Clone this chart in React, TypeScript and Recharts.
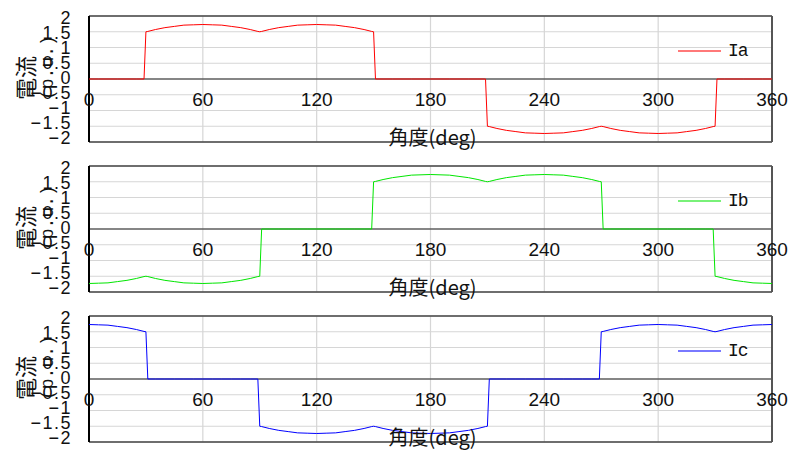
import { LineChart, Line, XAxis, YAxis, CartesianGrid, ReferenceLine, Legend } from 'recharts';

// sample angles (deg); extra points at 29/30/31 etc. carry the current steps
const angles = [
  0, 5, 10, 15, 20, 25, 29, 30, 31, 35, 40, 45, 50, 55, 60, 65, 70, 75, 80, 85,
  89, 90, 91, 95, 100, 105, 110, 115, 120, 125, 130, 135, 140, 145,
  149, 150, 151, 155, 160, 165, 170, 175, 180, 185, 190, 195, 200, 205,
  209, 210, 211, 215, 220, 225, 230, 235, 240, 245, 250, 255, 260, 265,
  269, 270, 271, 275, 280, 285, 290, 295, 300, 305, 310, 315, 320, 325,
  329, 330, 331, 335, 340, 345, 350, 355, 360,
];

const iaValues = [
  0, 0, 0, 0, 0, 0, 0, 1.5, 1.51, 1.57, 1.63, 1.67, 1.71, 1.72, 1.73, 1.72, 1.71, 1.67, 1.63, 1.57,
  1.51, 1.5, 1.51, 1.57, 1.63, 1.67, 1.71, 1.72, 1.73, 1.72, 1.71, 1.67, 1.63, 1.57,
  1.51, 1.5, 0, 0, 0, 0, 0, 0, 0, 0, 0, 0, 0, 0,
  0, -1.5, -1.51, -1.57, -1.63, -1.67, -1.71, -1.72, -1.73, -1.72, -1.71, -1.67, -1.63, -1.57,
  -1.51, -1.5, -1.51, -1.57, -1.63, -1.67, -1.71, -1.72, -1.73, -1.72, -1.71, -1.67, -1.63, -1.57,
  -1.51, -1.5, 0, 0, 0, 0, 0, 0, 0,
];

const ibValues = [
  -1.73, -1.72, -1.71, -1.67, -1.63, -1.57, -1.51, -1.5, -1.51, -1.57, -1.63, -1.67, -1.71, -1.72, -1.73, -1.72, -1.71, -1.67, -1.63, -1.57,
  -1.51, -1.5, 0, 0, 0, 0, 0, 0, 0, 0, 0, 0, 0, 0,
  0, 1.5, 1.51, 1.57, 1.63, 1.67, 1.71, 1.72, 1.73, 1.72, 1.71, 1.67, 1.63, 1.57,
  1.51, 1.5, 1.51, 1.57, 1.63, 1.67, 1.71, 1.72, 1.73, 1.72, 1.71, 1.67, 1.63, 1.57,
  1.51, 1.5, 0, 0, 0, 0, 0, 0, 0, 0, 0, 0, 0, 0,
  0, -1.5, -1.51, -1.57, -1.63, -1.67, -1.71, -1.72, -1.73,
];

const icValues = [
  1.73, 1.72, 1.71, 1.67, 1.63, 1.57, 1.51, 1.5, 0, 0, 0, 0, 0, 0, 0, 0, 0, 0, 0, 0,
  0, -1.5, -1.51, -1.57, -1.63, -1.67, -1.71, -1.72, -1.73, -1.72, -1.71, -1.67, -1.63, -1.57,
  -1.51, -1.5, -1.51, -1.57, -1.63, -1.67, -1.71, -1.72, -1.73, -1.72, -1.71, -1.67, -1.63, -1.57,
  -1.51, -1.5, 0, 0, 0, 0, 0, 0, 0, 0, 0, 0, 0, 0,
  0, 1.5, 1.51, 1.57, 1.63, 1.67, 1.71, 1.72, 1.73, 1.72, 1.71, 1.67, 1.63, 1.57,
  1.51, 1.5, 1.51, 1.57, 1.63, 1.67, 1.71, 1.72, 1.73,
];

const xTicks = [0, 60, 120, 180, 240, 300, 360];
const yTicks = [-2, -1.5, -1, -0.5, 0, 0.5, 1, 1.5, 2];

const panels = [
  { name: 'Ia', values: iaValues, color: '#ff0000' },
  { name: 'Ib', values: ibValues, color: '#00e600' },
  { name: 'Ic', values: icValues, color: '#0000ff' },
];

const W = 790;
const H = 150;
const PLOT_TOP = 16;
const NARROW = "'Liberation Sans Narrow', 'Liberation Sans', sans-serif";
const JP = "'Noto Sans CJK JP', sans-serif";

// x ticks sit just under the zero line, not under the frame
const XTick = ({ x, y, payload }: any) => (
  <text x={x} y={y - 36} textAnchor="middle" fontSize={19} fontFamily={NARROW} fill="#111">
    {payload.value}
  </text>
);

// labels are packed a bit tighter than the grid, like the original
const YTick = ({ x, y, payload }: any) => (
  <text x={x} y={y + 8 - (y - PLOT_TOP) * 0.048} textAnchor="end" fontSize={18} fontFamily={NARROW} fill="#111" letterSpacing={1.5}>
    {String(payload.value).replace('-', '\u2212')}
  </text>
);

const XLabel = ({ viewBox }: any) => (
  <text x={viewBox.x + viewBox.width / 2 + 2} y={viewBox.y + 3} textAnchor="middle" fontSize={20} fontFamily={JP} fill="#111">
    角度(deg)
  </text>
);

const YLabel = ({ viewBox }: any) => {
  const y0 = viewBox.y + viewBox.height / 2 + 21;
  return (
    <g fill="#111">
      <text x={24} y={y0} transform={`rotate(-90, 24, ${y0})`} dominantBaseline="central" fontSize={22} fontFamily={JP}>
        電流
      </text>
      <text x={48} y={y0} transform={`rotate(-90, 48, ${y0})`} dominantBaseline="central" fontSize={18} fontFamily="'Liberation Mono', monospace">
        (p.u.)
      </text>
    </g>
  );
};

function Panel({ name, values, color, top }: { name: string; values: number[]; color: string; top: number }) {
  const data = angles.map((a, i) => ({ angle: a, value: values[i] }));
  const renderLegend = () => (
    <div style={{ display: 'flex', alignItems: 'center', height: 22 }}>
      <svg width={48} height={22}>
        <line x1={2} x2={45} y1={11} y2={11} stroke={color} strokeOpacity={0.7} strokeWidth={1.5} />
      </svg>
      <span style={{ fontFamily: "'Liberation Mono', monospace", fontSize: 18, letterSpacing: -1, color: '#111', marginLeft: 4 }}>
        {name}
      </span>
    </div>
  );
  return (
    <div style={{ position: 'absolute', left: 0, top }}>
      <LineChart width={W} height={H} data={data} margin={{ top: PLOT_TOP, right: 18, bottom: 0, left: 0 }}>
        <CartesianGrid stroke="#d6d6d6" strokeWidth={1.2} />
        <XAxis
          dataKey="angle"
          type="number"
          domain={[0, 360]}
          ticks={xTicks}
          height={8}
          axisLine={false}
          tickLine={false}
          tickSize={0}
          tickMargin={0}
          tick={<XTick />}
          interval={0}
          label={{ content: XLabel }}
        />
        <YAxis
          type="number"
          domain={[-2, 2]}
          ticks={yTicks}
          width={89}
          axisLine={false}
          tickLine={false}
          tickSize={0}
          tickMargin={17}
          tick={<YTick />}
          interval={0}
          label={{ content: YLabel }}
        />
        <ReferenceLine y={0} stroke="#222" strokeWidth={1} />
        <ReferenceLine y={2} stroke="#444" strokeWidth={1.5} />
        <ReferenceLine y={-2} stroke="#444" strokeWidth={1.5} />
        <ReferenceLine x={360} stroke="#555" strokeWidth={2} />
        <ReferenceLine x={0} stroke="#000" strokeWidth={2} />
        <Line
          type="linear"
          dataKey="value"
          stroke={color}
          strokeWidth={1}
          dot={false}
          isAnimationActive={false}
        />
        <Legend
          layout="vertical"
          align="center"
          verticalAlign="middle"
          wrapperStyle={{ left: 676, top: 40, width: 90 }}
          content={renderLegend}
        />
      </LineChart>
    </div>
  );
}

export default function App() {
  return (
    <div style={{ position: 'absolute', left: 0, top: 0, width: W, height: 451, background: '#fff', fontFamily: NARROW }}>
      {panels.map((p, i) => (
        <Panel key={p.name} name={p.name} values={p.values} color={p.color} top={i * H} />
      ))}
    </div>
  );
}
